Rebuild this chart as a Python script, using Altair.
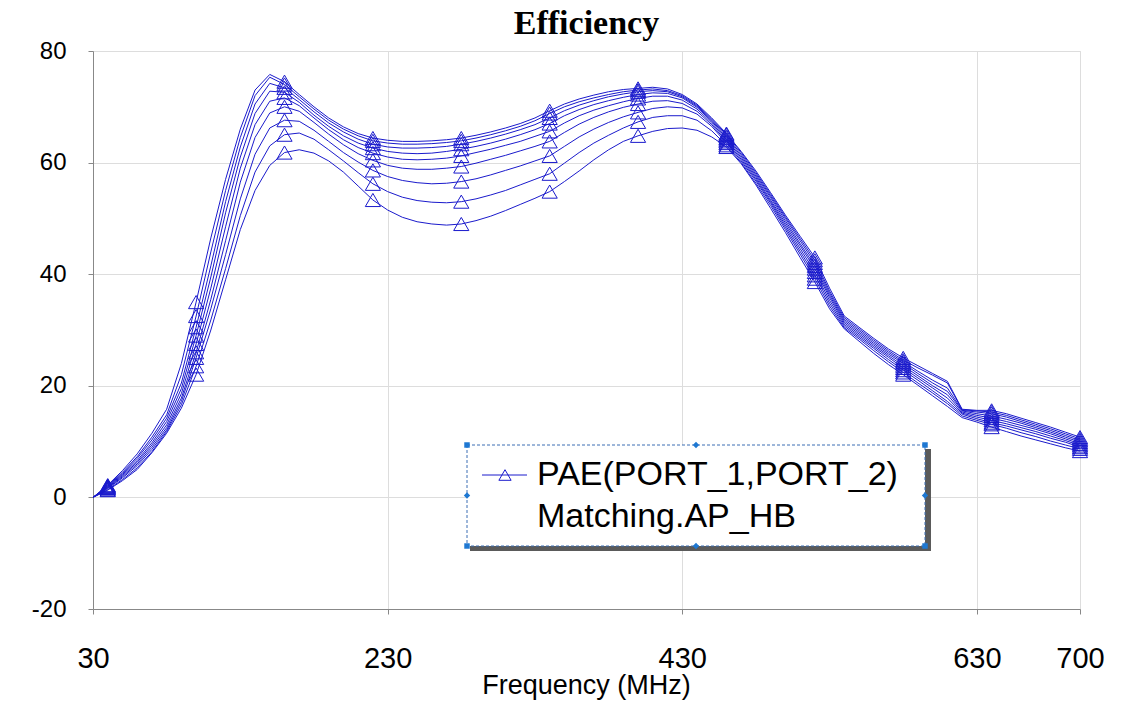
import altair as alt
import pandas as pd

freq = list(range(30, 701, 10))
marker_freq = [40, 100, 160, 220, 280, 340, 400, 460, 520, 580, 640, 700]
x_ticks = [30, 230, 430, 630, 700]
y_ticks = [-20, 0, 20, 40, 60, 80]

c1 = [0, 2.2, 4.8, 7.8, 11.5, 15.8, 24, 35, 46.5, 57,
      66, 73, 75.8, 74.5, 72.2, 70, 68, 66.4, 65.2, 64.4,
      64, 63.8, 63.8, 63.9, 64.1, 64.4, 64.9, 65.5, 66.2, 67,
      68, 69.3, 70.5, 71.4, 72.1, 72.7, 73.1, 73.3, 73.5, 73.2,
      72.2, 70.5, 68, 65.2, 62, 58.5, 54.6, 50.6, 46.8, 43,
      37.5, 32.5, 30.5, 28.5, 26.6, 25, 23.6, 22.2, 20.8, 15.8,
      15.6, 15.6, 15, 14.2, 13.4, 12.6, 11.7, 10.8]
c2 = [0, 2.1, 4.5, 7.3, 10.8, 14.8, 22, 32.5, 44, 55,
      64.5, 72, 75.3, 74, 71.8, 69.6, 67.6, 66, 64.8, 63.9,
      63.5, 63.3, 63.3, 63.4, 63.6, 63.9, 64.4, 65, 65.7, 66.5,
      67.5, 68.8, 70, 70.9, 71.6, 72.2, 72.7, 73, 73.2, 72.9,
      72, 70.3, 67.8, 65, 61.8, 58.2, 54.3, 50.3, 46.4, 42.5,
      37, 32.2, 30.2, 28.2, 26.3, 24.6, 23.2, 21.9, 20.5, 15.7,
      15.5, 15.3, 14.7, 13.9, 13.1, 12.3, 11.4, 10.5]
c3 = [0, 2.0, 4.3, 7, 10.3, 14.2, 20.5, 30.5, 41.5, 53,
      62.8, 70.5, 74.2, 73.4, 71.3, 69.1, 67.1, 65.5, 64.2, 63.3,
      62.8, 62.6, 62.6, 62.7, 62.9, 63.3, 63.8, 64.4, 65.1, 65.9,
      66.8, 68, 69.3, 70.3, 71.1, 71.8, 72.3, 72.7, 72.9, 72.7,
      71.8, 70.1, 67.6, 64.7, 61.5, 57.9, 54, 50, 46, 42,
      36.6, 31.9, 29.9, 27.9, 26, 24.3, 22.6, 21, 19.6, 15.6,
      15.3, 15, 14.4, 13.6, 12.8, 12, 11.1, 10.2]
c4 = [0, 1.9, 4.1, 6.6, 9.8, 13.6, 19.5, 29, 39.5, 51,
      61, 68.8, 72.8, 72.6, 70.8, 68.5, 66.5, 64.8, 63.5, 62.6,
      62, 61.7, 61.6, 61.7, 62, 62.4, 62.9, 63.5, 64.2, 65,
      65.9, 67, 68.4, 69.5, 70.4, 71.1, 71.7, 72.2, 72.5, 72.4,
      71.6, 69.9, 67.4, 64.4, 61.2, 57.6, 53.7, 49.6, 45.5, 41.5,
      36.2, 31.6, 29.6, 27.6, 25.7, 24, 22.2, 20.5, 19, 15.5,
      15, 14.6, 14, 13.3, 12.5, 11.7, 10.8, 9.9]
c5 = [0, 1.8, 3.9, 6.3, 9.4, 13, 18.6, 27.5, 37.5, 48.5,
      59, 66.8, 71, 71.6, 70.2, 68, 65.9, 64.1, 62.7, 61.7,
      61, 60.6, 60.5, 60.6, 60.8, 61.2, 61.8, 62.4, 63.1, 63.8,
      64.7, 65.6, 67.1, 68.4, 69.4, 70.2, 70.9, 71.5, 71.9, 71.9,
      71.2, 69.6, 67.1, 64.1, 60.9, 57.3, 53.3, 49.2, 45.1, 41,
      35.8, 31.3, 29.3, 27.3, 25.4, 23.6, 21.8, 20, 18.4, 15.3,
      14.7, 14.2, 13.6, 12.9, 12.2, 11.4, 10.5, 9.6]
c6 = [0, 1.7, 3.7, 6, 9, 12.5, 17.8, 26, 35.5, 46,
      56.5, 64.5, 68.9, 70, 69.2, 67.2, 65.1, 63.2, 61.6, 60.4,
      59.5, 59, 58.8, 58.8, 59, 59.3, 59.9, 60.6, 61.3, 62.1,
      62.9, 63.8, 65.4, 66.9, 68.1, 69.1, 69.9, 70.5, 71, 71.1,
      70.6, 69.2, 66.8, 63.8, 60.6, 57, 53, 48.8, 44.6, 40.4,
      35.3, 31, 29, 27, 25.1, 23.2, 21.4, 19.6, 17.8, 15.1,
      14.4, 13.8, 13.2, 12.5, 11.8, 11, 10.2, 9.3]
c7 = [0, 1.6, 3.5, 5.7, 8.6, 12.1, 17.2, 25, 33.8, 43.5,
      53.5, 61.5, 66.2, 67.6, 67.4, 65.8, 63.8, 61.8, 60.1, 58.6,
      57.5, 56.8, 56.4, 56.2, 56.3, 56.6, 57.1, 57.8, 58.6, 59.4,
      60.3, 61.2, 62.9, 64.6, 66, 67.2, 68.2, 69, 69.7, 70,
      69.8, 68.7, 66.5, 63.5, 60.3, 56.7, 52.7, 48.4, 44.1, 39.8,
      34.8, 30.7, 28.7, 26.7, 24.7, 22.8, 21, 19.1, 17.2, 14.9,
      14.1, 13.4, 12.8, 12.1, 11.4, 10.6, 9.9, 9]
c8 = [0, 1.4, 3.2, 5.3, 8.2, 11.8, 16.6, 23.5, 31.8, 41,
      50.5, 58.3, 63, 65, 65.3, 64.2, 62.3, 60.3, 58.2, 56.2,
      54.8, 53.8, 53.2, 52.9, 52.8, 53, 53.5, 54.2, 55, 56,
      57, 58, 59.9, 61.8, 63.5, 64.9, 66.2, 67.3, 68.1, 68.4,
      68.4, 67.6, 65.7, 63.1, 60, 56.3, 52.3, 48, 43.6, 39.2,
      34.3, 30.4, 28.4, 26.3, 24.3, 22.4, 20.5, 18.7, 16.8, 14.6,
      13.8, 13.1, 12.4, 11.6, 10.9, 10.1, 9.4, 8.7]
c9 = [0, 1.3, 3, 5, 8, 11.5, 16, 22, 30, 39,
      48, 55, 59.5, 61.8, 62.3, 61.7, 60.3, 58.3, 55.8, 53.3,
      51.5, 50.2, 49.4, 49, 48.8, 49, 49.6, 50.4, 51.4, 52.5,
      53.6, 54.8, 56.6, 58.5, 60.5, 62.3, 63.8, 64.8, 65.6, 66.1,
      66.2, 65.8, 64.6, 62.8, 59.8, 56, 51.8, 47.5, 43, 38.6,
      33.8, 30.2, 28, 25.8, 23.8, 22, 20.1, 18.2, 16.3, 14.3,
      13.5, 12.6, 11.8, 11, 10.3, 9.6, 8.9, 8.3]

curves = {"s1": c1, "s2": c2, "s3": c3, "s4": c4, "s5": c5,
          "s6": c6, "s7": c7, "s8": c8, "s9": c9}

rows = []
for name, vals in curves.items():
    for f, v in zip(freq, vals):
        rows.append({"curve": name, "freq": f, "pae": v})
df = pd.DataFrame(rows)
mk = df[df["freq"].isin(marker_freq)]

BLUE = "#1A1ACC"
FONT = "Liberation Sans"
W, H = 987, 558

xenc = alt.X("freq:Q", scale=alt.Scale(domain=[30, 700], nice=False, zero=False),
             axis=alt.Axis(values=x_ticks, labelFont=FONT, labelFontSize=29,
                           labelPadding=30, labelFlush=False, labelOverlap=False,
                           labelExpr="datum.value", title=None, labelColor="black"))
yenc = alt.Y("pae:Q", scale=alt.Scale(domain=[-20, 80], nice=False, zero=False),
             axis=alt.Axis(values=y_ticks, labelFont=FONT, labelFontSize=24,
                           labelPadding=22, title=None, labelColor="black",
                           labelExpr="datum.value"))

lines = alt.Chart(df).mark_line(color=BLUE, strokeWidth=1).encode(
    x=xenc, y=yenc, detail="curve:N")
points = alt.Chart(mk).mark_point(shape="triangle-up", filled=False, size=230,
                                  color=BLUE, strokeWidth=1, opacity=1).encode(
    x="freq:Q", y="pae:Q", detail="curve:N")

one = pd.DataFrame({"a": [0]})

title_txt = alt.Chart(one).mark_text(text="Efficiency", font="Liberation Serif",
                                     fontSize=34, fontWeight="bold", align="center",
                                     baseline="alphabetic", color="black").encode(
    x=alt.value(W / 2), y=alt.value(-17))
xtitle_txt = alt.Chart(one).mark_text(text="Frequency (MHz)", font=FONT, fontSize=27,
                                      align="center", baseline="alphabetic",
                                      color="black").encode(
    x=alt.value(W / 2), y=alt.value(643))

# legend box (plot-area pixel coordinates)
L, R, T, B = 374, 832, 394, 495
shadow_r = alt.Chart(one).mark_rect(color="#5a5a5a").encode(
    x=alt.value(R), x2=alt.value(R + 6), y=alt.value(T + 4), y2=alt.value(B + 5))
shadow_b = alt.Chart(one).mark_rect(color="#5a5a5a").encode(
    x=alt.value(L + 3), x2=alt.value(R + 6), y=alt.value(B), y2=alt.value(B + 5))
box = alt.Chart(one).mark_rect(fill="white", stroke="#3C6EB4", strokeWidth=1,
                               strokeDash=[3, 2]).encode(
    x=alt.value(L), x2=alt.value(R), y=alt.value(T), y2=alt.value(B))
leg_line = alt.Chart(one).mark_rule(color=BLUE, strokeWidth=1).encode(
    x=alt.value(389), x2=alt.value(434), y=alt.value(424))
leg_tri = alt.Chart(one).mark_point(shape="triangle-up", filled=False, size=150,
                                    color=BLUE, strokeWidth=1, opacity=1).encode(
    x=alt.value(412), y=alt.value(424))
leg_t1 = alt.Chart(one).mark_text(text="PAE(PORT_1,PORT_2)", font=FONT,
                                  fontSize=34, align="left", baseline="alphabetic",
                                  color="black").encode(x=alt.value(444), y=alt.value(434))
leg_t2 = alt.Chart(one).mark_text(text="Matching.AP_HB", font=FONT,
                                  fontSize=34, align="left", baseline="alphabetic",
                                  color="black").encode(x=alt.value(444), y=alt.value(476))

handles = []
for hx, hy in [(L, T), (R, T), (L, B), (R, B)]:
    handles.append(alt.Chart(one).mark_point(shape="square", filled=True, size=30,
                                             color="#1E78D2", opacity=1).encode(
        x=alt.value(hx), y=alt.value(hy)))
for hx, hy in [((L + R) / 2, T), ((L + R) / 2, B), (L, (T + B) / 2), (R, (T + B) / 2)]:
    handles.append(alt.Chart(one).mark_point(shape="diamond", filled=True, size=40,
                                             color="#1E78D2", opacity=1).encode(
        x=alt.value(hx), y=alt.value(hy)))

chart = alt.layer(lines, points, shadow_r, shadow_b, box, leg_line, leg_tri,
                  leg_t1, leg_t2, *handles, title_txt, xtitle_txt).properties(
    width=W, height=H,
    autosize=alt.AutoSizeParams(type="none"),
    padding={"left": 85, "top": 43, "right": 30, "bottom": 91},
).configure_view(stroke="#444444", strokeWidth=1.5).configure_axis(
    grid=True, gridColor="#C8C8C8", gridWidth=1, domain=False, ticks=False
).configure(background="white")

chart.save("out.html", embed_options={"renderer": "svg", "actions": False})
